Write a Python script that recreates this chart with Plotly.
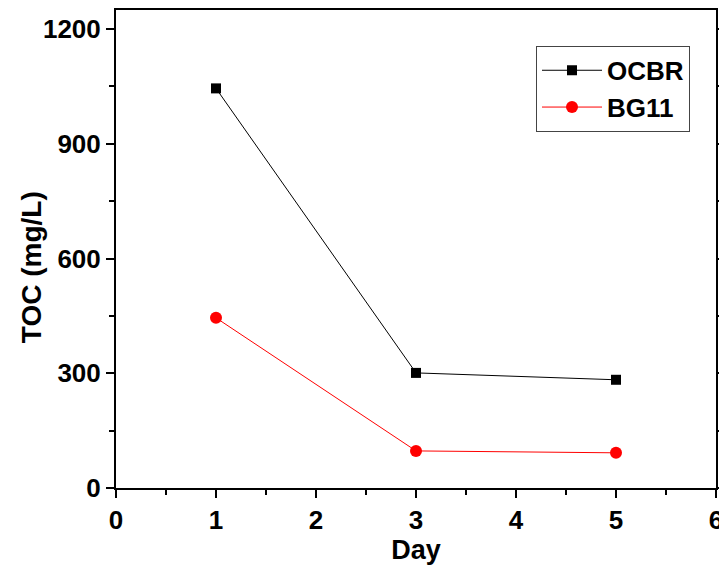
import plotly.graph_objects as go

days = [1, 3, 5]
ocbr = [1045, 301, 283]
bg11 = [445, 97, 92]
x_ticks = [0, 1, 2, 3, 4, 5, 6]
y_ticks = [0, 300, 600, 900, 1200]

font_family = "Liberation Sans, Arial, sans-serif"

fig = go.Figure()
fig.add_trace(go.Scatter(x=days, y=ocbr, mode="lines+markers", name="OCBR",
                         line=dict(color="black", width=1),
                         marker=dict(symbol="square", size=10, color="black")))
fig.add_trace(go.Scatter(x=days, y=bg11, mode="lines+markers", name="BG11",
                         line=dict(color="red", width=1),
                         marker=dict(symbol="circle", size=12, color="red")))

axis_common = dict(showline=True, linecolor="black", linewidth=2, mirror="ticks",
                   ticks="outside", ticklen=8, tickwidth=2, tickcolor="black",
                   showgrid=False, zeroline=False, automargin=False,
                   tickfont=dict(family=font_family, size=26, color="black", weight="bold"),
                   minor=dict(ticks="outside", ticklen=5, tickwidth=2, tickcolor="black"))

fig.update_layout(
    width=719, height=559,
    paper_bgcolor="white", plot_bgcolor="white",
    margin=dict(l=108, r=11, t=2, b=79),
    font=dict(family=font_family, color="black"),
    xaxis=dict(range=[0, 6], tickvals=x_ticks,
               title=dict(text="<b>Day</b>", font=dict(family=font_family, size=27), standoff=6),
               **axis_common),
    yaxis=dict(range=[0, 1250], tickvals=y_ticks, **axis_common),
    legend=dict(x=0.70, y=0.925, xanchor="left", yanchor="top",
                bordercolor="#444", borderwidth=1, bgcolor="white",
                font=dict(family=font_family, size=26, color="black", weight="bold"),
                itemwidth=60, tracegroupgap=0),
    showlegend=True,
    annotations=[dict(text="<b>TOC (mg/L)</b>", textangle=-90, showarrow=False,
                      xref="paper", yref="paper", x=0, y=0.462, xanchor="center",
                      yanchor="middle", xshift=-85,
                      font=dict(family=font_family, size=28, color="black"))],
)
fig.update_xaxes(minor=dict(dtick=0.5))
fig.update_yaxes(minor=dict(dtick=150))

fig.write_html("out.html", default_width="719px", default_height="559px")
